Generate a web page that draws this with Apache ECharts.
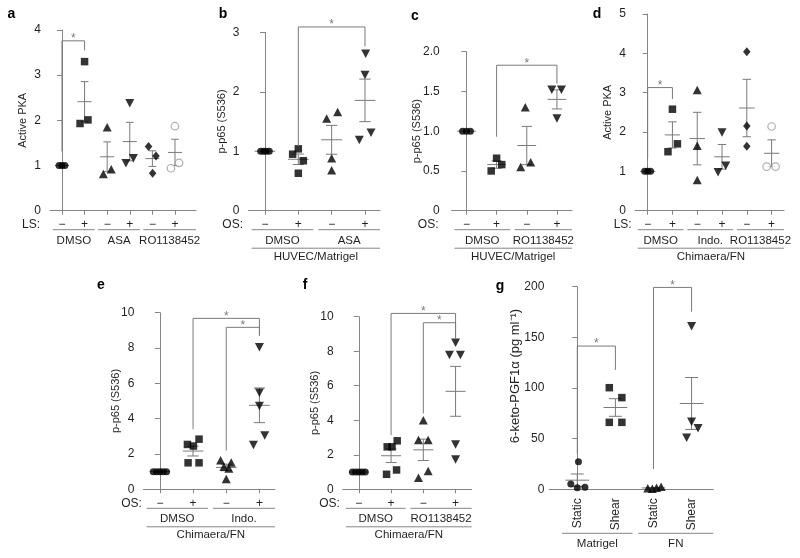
<!DOCTYPE html>
<html><head><meta charset="utf-8">
<script src="https://cdn.jsdelivr.net/npm/echarts@6/dist/echarts.min.js"></script>
<style>html,body{margin:0;padding:0;background:#fff}#c{width:800px;height:558px}</style>
</head><body><div id="c"></div>
<script>
const MINUS = '\u2212';
// ---------- DATA ----------
const cats6 = [MINUS, '+', MINUS, '+', MINUS, '+'];
const cats4 = [MINUS, '+', MINUS, '+'];

// a: Active PKA, LS
const aGroups = ['DMSO', 'ASA', 'RO1138452'];
const aValues = [[1, 1, 1], [3.30, 1.93, 2.01], [1.85, 0.81, 0.92], [2.38, 1.05, 1.16], [1.42, 1.21, 0.83], [1.87, 0.94, 1.06]];
const aBrackets = [[0, 1.31, 1, 3.55, 3.76]];

// b: p-p65, OS, HUVEC/Matrigel, ASA
const bGroups = ['DMSO', 'ASA'];
const bValues = [[1, 1, 1, 1], [1.04, 0.95, 0.84, 0.63], [1.55, 1.66, 0.88, 0.68], [2.64, 2.28, 1.31, 1.19]];
const bBrackets = [[1, 1.09, 3, 2.76, 3.09]];

// c: p-p65, OS, HUVEC/Matrigel, RO1138452
const cGroups = ['DMSO', 'RO1138452'];
const cValues = [[1, 1, 1], [0.66, 0.58, 0.50], [1.30, 0.55, 0.61], [1.52, 1.52, 1.16]];
const cBrackets = [[1, 0.93, 3, 1.60, 1.83]];

// d: Active PKA, LS, Chimaera/FN
const dGroups = ['DMSO', 'Indo.', 'RO1138452'];
const dValues = [[1, 1, 1], [2.58, 1.50, 1.70], [3.07, 1.65, 0.78], [1.99, 0.98, 1.14], [4.04, 2.15, 1.64], [2.14, 1.12, 1.12]];
const dBrackets = [[0, 1.33, 1, 2.84, 3.13]];

// e: p-p65, OS, Chimaera/FN, Indo.
const eGroups = ['DMSO', 'Indo.'];
const eValues = [[1, 1, 1, 1, 1], [2.84, 2.54, 2.45, 1.50, 1.50], [1.64, 1.52, 1.27, 1.18, 0.58], [8.04, 5.47, 4.72, 3.04, 2.51]];
const eBrackets = [[1, 3.4, 3, 8.7, 9.68], [2, 2.2, 3, 8.7, 9.17]];

// f: p-p65, OS, Chimaera/FN, RO1138452
const fGroups = ['DMSO', 'RO1138452'];
const fValues = [[1, 1, 1, 1, 1], [2.81, 2.46, 2.46, 1.12, 0.87], [4.00, 2.85, 2.85, 1.06, 0.67], [8.49, 7.78, 7.78, 2.60, 1.73]];
const fBrackets = [[1, 3.14, 3, 8.74, 10.19], [2, 4.4, 3, 8.74, 9.65]];

// g: 6-keto-PGF1a
const gCats = ['Static', 'Shear', 'Static', 'Shear'];
const gGroups = ['Matrigel', 'FN'];
const gValues = [[27.2, 5.2, 1.6, 2.0], [100.3, 90.5, 66.1, 66.1], [1.0, 0.5, 1.5, 2.5], [161, 66.7, 60.2, 51]];
const gBrackets = [[0, 35, 1, 117.8, 141.4], [2, 20, 3, 175.3, 199.3]];

// ---------- STYLE / LAYOUT ----------
const FONT = '"Liberation Sans", Arial, Helvetica, sans-serif';
const TXT = '#231f20';
const AXIS = '#858585';
const GREY = '#7a7a7a';

// horizontal jitter of points (in category units) - presentation only
const aJitter = [[-0.13, 0, 0.13], [0, -0.2, 0.15], [0, -0.17, 0.18], [0, -0.17, 0.16], [-0.17, 0.16, 0.01], [0, -0.18, 0.18]];
const bJitter = [[-0.13, -0.04, 0.04, 0.13], [0, -0.17, 0.15, 0], [-0.15, 0.18, 0, 0], [0.02, 0, 0.18, -0.17]];
const cJitter = [[-0.13, 0, 0.13], [0, 0.17, -0.18], [-0.05, -0.2, 0.13], [-0.17, 0.15, 0]];
const dJitter = [[-0.12, 0, 0.12], [0, -0.18, 0.2], [0, 0, 0], [0, -0.16, 0.15], [0, 0, 0], [0, -0.2, 0.16]];
const eJitter = [[-0.2, -0.1, 0, 0.1, 0.2], [0.18, -0.17, 0.01, -0.15, 0.18], [-0.17, 0.15, -0.07, 0.08, 0], [0, 0, 0, 0.16, -0.18]];
const fJitter = [[-0.2, -0.1, 0, 0.1, 0.2], [0.19, -0.12, 0.03, 0.17, -0.14], [0, -0.15, 0.15, 0.15, -0.15], [0, -0.19, 0.15, 0, 0]];
const gJitter = [[0.03, -0.17, 0, 0.2], [-0.16, 0.17, -0.16, 0.17], [-0.15, -0.03, 0.08, 0.2], [0, 0, 0.17, -0.13]];

const SYM = {
  dot: { symbol: 'circle', symbolSize: 7, itemStyle: { color: '#000' } },
  square: { symbol: 'rect', symbolSize: 7.5, itemStyle: { color: '#000' } },
  up: { symbol: 'triangle', symbolSize: [9, 8.5], itemStyle: { color: '#000' } },
  down: { symbol: 'triangle', symbolSize: [9, 8.5], symbolRotate: 180, itemStyle: { color: '#000' } },
  diamond: { symbol: 'diamond', symbolSize: [7.5, 9], itemStyle: { color: '#000' } },
  open: { symbol: 'circle', symbolSize: 7.5, itemStyle: { color: '#fff', borderColor: '#9a9a9a', borderWidth: 1.2 } }
};

const fmt1 = v => (v === 0 ? '0' : v.toFixed(1));

const panels = [
  { letter: 'a', lp: [11.5, 14], grid: [50, 30, 146, 180.7], x: [-0.53, 5.93], y: [0, 4, 1], yName: 'Active PKA', nameGap: 21.5,
    cats: cats6, groups: aGroups, lead: 'LS:', leadDx: 22, sup: null, values: aValues, jitter: aJitter,
    symbols: ['dot', 'square', 'up', 'down', 'diamond', 'open'], brackets: aBrackets },
  { letter: 'b', lp: [223, 14], grid: [248.3, 32.3, 131.7, 178.4], x: [-0.5, 3.45], y: [0, 3, 1], yName: 'p-p65 (S536)', nameGap: 21,
    cats: cats4, groups: bGroups, lead: 'OS:', leadDx: 22, sup: 'HUVEC/Matrigel', values: bValues, jitter: bJitter,
    symbols: ['dot', 'square', 'up', 'down'], brackets: bBrackets },
  { letter: 'c', lp: [415, 16], grid: [451.7, 51.7, 120.3, 159], x: [-0.49, 3.5], y: [0, 2, 0.5], yName: 'p-p65 (S536)', nameGap: 29.5,
    cats: cats4, groups: cGroups, lead: 'OS:', leadDx: 28, sup: 'HUVEC/Matrigel', values: cValues, jitter: cJitter,
    symbols: ['dot', 'square', 'up', 'down'], brackets: cBrackets, yFmt: fmt1, labelMargin: 12 },
  { letter: 'd', lp: [597, 14], grid: [635, 14, 149, 196.7], x: [-0.51, 5.5], y: [0, 5, 1], yName: 'Active PKA', nameGap: 21.5,
    cats: cats6, groups: dGroups, lead: 'LS:', leadDx: 16, sup: 'Chimaera/FN', values: dValues, jitter: dJitter,
    symbols: ['dot', 'square', 'up', 'down', 'diamond', 'open'], brackets: dBrackets },
  { letter: 'e', lp: [101, 285], grid: [143.3, 312.7, 131.7, 176.6], x: [-0.5, 3.47], y: [0, 10, 2], yName: 'p-p65 (S536)', nameGap: 22,
    cats: cats4, groups: eGroups, lead: 'OS:', leadDx: 18, sup: 'Chimaera/FN', values: eValues, jitter: eJitter,
    symbols: ['dot', 'square', 'up', 'down'], brackets: eBrackets },
  { letter: 'f', lp: [305, 285], grid: [342.7, 316.7, 129, 172.6], x: [-0.5, 3.5], y: [0, 10, 2], yName: 'p-p65 (S536)', nameGap: 22,
    cats: cats4, groups: fGroups, lead: 'OS:', leadDx: 19, sup: 'Chimaera/FN', values: fValues, jitter: fJitter,
    symbols: ['dot', 'square', 'up', 'down'], brackets: fBrackets },
  { letter: 'g', lp: [500, 286], grid: [549.3, 286.7, 164, 202.6], x: [-0.735, 3.57], y: [0, 200, 50], yName: '6-keto-PGF1\u03b1 (pg ml\u207b\u00b9)', nameGap: 27,
    nameSize: 13, namePad: [0, 0, 0, 24], labelMargin: 5,
    cats: gCats, groups: gGroups, lead: null, sup: null, values: gValues, jitter: gJitter,
    symbols: ['dot', 'square', 'up', 'down'], brackets: gBrackets, rot: true }
];

function meanSem(arr) {
  const n = arr.length;
  const m = arr.reduce((a, b) => a + b, 0) / n;
  const sd = Math.sqrt(arr.reduce((a, b) => a + (b - m) * (b - m), 0) / (n - 1));
  return [m, sd / Math.sqrt(n)];
}

const grids = [], xAxes = [], yAxes = [], series = [], graphics = [];

panels.forEach((P, i) => {
  const idx = P.cats.map((_, k) => k);
  grids.push({ left: P.grid[0], top: P.grid[1], width: P.grid[2], height: P.grid[3], containLabel: false, outerBoundsMode: 'none' });
  xAxes.push({
    gridIndex: i, type: 'value', min: P.x[0], max: P.x[1],
    axisLine: { show: true, onZero: false, lineStyle: { color: AXIS, width: 1 } },
    axisTick: { show: !P.rot, customValues: idx, length: 4, lineStyle: { color: AXIS } },
    axisLabel: { customValues: idx, formatter: v => P.cats[Math.round(v)], fontSize: 12, color: TXT,
      fontFamily: FONT, margin: P.rot ? 9 : 8, rotate: P.rot ? 90 : 0 },
    splitLine: { show: false }
  });
  yAxes.push({
    gridIndex: i, type: 'value', min: P.y[0], max: P.y[1], interval: P.y[2],
    axisLine: { show: true, lineStyle: { color: AXIS, width: 1 } },
    axisTick: { show: true, length: 5, lineStyle: { color: AXIS } },
    axisLabel: { fontSize: 12, color: TXT, fontFamily: FONT, margin: P.labelMargin || 9, formatter: P.yFmt || (v => String(v)) },
    splitLine: { show: false },
    name: P.yName, nameLocation: 'middle', nameGap: P.nameGap, nameMoveOverlap: false,
    nameTextStyle: { fontSize: P.nameSize || 11, color: TXT, fontFamily: FONT, padding: P.namePad || 0 }
  });

  // error bars (mean ± SEM) under the points
  series.push({
    type: 'custom', xAxisIndex: i, yAxisIndex: i, silent: true, z: 2, clip: false,
    data: P.values.map((vals, g) => [g].concat(meanSem(vals))),
    renderItem: (params, api) => {
      const x = api.value(0), m = api.value(1), e = api.value(2);
      const c = api.coord([x, m]);
      const band = api.size([1, 0])[0];
      const hw = band * 0.31, cw = band * 0.17;
      const st = { stroke: GREY, lineWidth: 1 };
      const ch = [{ type: 'line', shape: { x1: c[0] - hw, y1: c[1], x2: c[0] + hw, y2: c[1] }, style: st }];
      if (e > 0) {
        const t = api.coord([x, m + e]), b = api.coord([x, m - e]);
        ch.push({ type: 'line', shape: { x1: c[0], y1: t[1], x2: c[0], y2: b[1] }, style: st });
        ch.push({ type: 'line', shape: { x1: c[0] - cw, y1: t[1], x2: c[0] + cw, y2: t[1] }, style: st });
        ch.push({ type: 'line', shape: { x1: c[0] - cw, y1: b[1], x2: c[0] + cw, y2: b[1] }, style: st });
      }
      return { type: 'group', children: ch };
    }
  });

  // points
  P.values.forEach((vals, g) => {
    const s = SYM[P.symbols[g]];
    series.push(Object.assign({
      type: 'scatter', xAxisIndex: i, yAxisIndex: i, silent: true, z: 3,
      data: vals.map((v, k) => [g + P.jitter[g][k], v])
    }, JSON.parse(JSON.stringify(s))));
  });

  // significance brackets
  series.push({
    type: 'custom', xAxisIndex: i, yAxisIndex: i, silent: true, z: 4, clip: false,
    data: P.brackets,
    renderItem: (params, api) => {
      const x1 = api.value(0), y1 = api.value(1), x2 = api.value(2), y2 = api.value(3), yt = api.value(4);
      const a = api.coord([x1, y1]), at = api.coord([x1, yt]), bt = api.coord([x2, yt]), b = api.coord([x2, y2]);
      return { type: 'group', children: [
        { type: 'polyline', shape: { points: [a, at, bt, b] }, style: { stroke: GREY, lineWidth: 1, fill: null } },
        { type: 'text', x: (at[0] + bt[0]) / 2, y: at[1] - 2,
          style: { text: '*', fill: GREY, fontSize: 12, fontFamily: FONT, align: 'center', verticalAlign: 'middle' } }
      ] };
    }
  });

  // group labels, underlines, lead label
  const items = [];
  const nG = P.groups.length;
  P.groups.forEach((label, k) => {
    const first = 2 * k, last = 2 * k + 1;
    items.push({ kind: 'grp', from: first - 0.4, to: k === nG - 1 ? P.x[1] : last + 0.45, text: label });
  });
  if (P.sup) items.push({ kind: 'sup', from: -0.4, to: P.x[1], text: P.sup });
  if (P.lead) items.push({ kind: 'lead', from: 0, to: 0, text: P.lead });
  const lineOff = P.rot ? 44 : 19, labOff = P.rot ? 55 : 30;
  series.push({
    type: 'custom', xAxisIndex: i, yAxisIndex: i, silent: true, z: 4, clip: false,
    data: items.map(it => [it.from, 0]),
    renderItem: (params, api) => {
      const it = items[params.dataIndex];
      const p0 = api.coord([it.from, 0]), p1 = api.coord([it.to, 0]);
      const base = p0[1];
      const tst = { fill: TXT, fontFamily: FONT, align: 'center', verticalAlign: 'middle' };
      if (it.kind === 'lead') {
        return { type: 'text', x: p0[0] - P.leadDx, y: base + 14,
          style: Object.assign({}, tst, { text: it.text, fontSize: 12, align: 'right' }) };
      }
      const lo = it.kind === 'grp' ? lineOff : 37.5;
      const to = it.kind === 'grp' ? labOff : 46;
      return { type: 'group', children: [
        { type: 'line', shape: { x1: p0[0], y1: base + lo, x2: p1[0], y2: base + lo }, style: { stroke: AXIS, lineWidth: 1 } },
        { type: 'text', x: (p0[0] + p1[0]) / 2, y: base + to,
          style: Object.assign({}, tst, { text: it.text, fontSize: 11.5 }) }
      ] };
    }
  });

  graphics.push({ type: 'text', x: P.lp[0], y: P.lp[1],
    style: { text: P.letter, fontSize: 14, fontWeight: 'bold', fontFamily: FONT, fill: '#000', align: 'center', verticalAlign: 'middle' } });
});

const chart = echarts.init(document.getElementById('c'), null, { renderer: 'canvas' });
chart.setOption({
  animation: false,
  backgroundColor: '#fff',
  textStyle: { fontFamily: FONT },
  grid: grids, xAxis: xAxes, yAxis: yAxes, series: series, graphic: graphics
});
</script></body></html>
